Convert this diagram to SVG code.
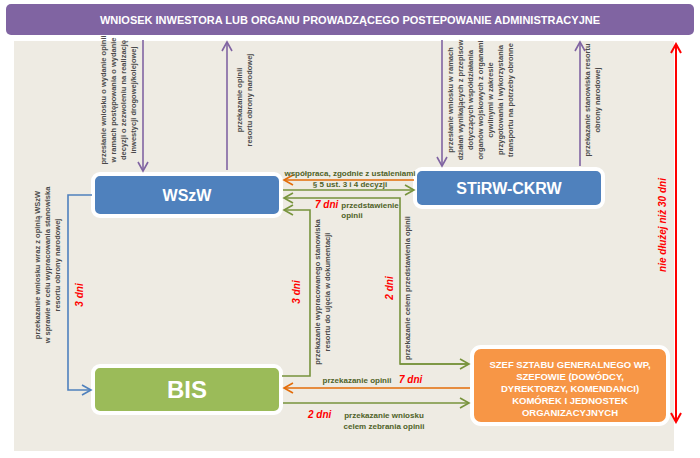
<svg xmlns="http://www.w3.org/2000/svg" width="700" height="458" viewBox="0 0 700 458">
<style>
text{font-family:"Liberation Sans","DejaVu Sans",sans-serif}
.t{font-size:7.5px;fill:#4a4a4a;font-weight:bold}
.g{font-size:8px;fill:#4f6228;font-weight:bold}
.r{font-size:10px;fill:#ff0000;font-weight:bold;font-style:italic}
.w{fill:#fff;font-weight:bold}
</style>
<defs>
<marker id="ap" markerWidth="12" markerHeight="12" refX="10" refY="6" orient="auto" markerUnits="userSpaceOnUse"><path d="M1,1 L10,6 L1,11" fill="none" stroke="#8064a2" stroke-width="1.6"/></marker>
<marker id="ag" markerWidth="12" markerHeight="12" refX="10" refY="6" orient="auto" markerUnits="userSpaceOnUse"><path d="M1,1 L10,6 L1,11" fill="none" stroke="#77933c" stroke-width="1.6"/></marker>
<marker id="ao" markerWidth="12" markerHeight="12" refX="10" refY="6" orient="auto" markerUnits="userSpaceOnUse"><path d="M1,1 L10,6 L1,11" fill="none" stroke="#e36c09" stroke-width="1.6"/></marker>
<marker id="ab" markerWidth="12" markerHeight="12" refX="10" refY="6" orient="auto" markerUnits="userSpaceOnUse"><path d="M1,1 L10,6 L1,11" fill="none" stroke="#4f81bd" stroke-width="1.6"/></marker>
<marker id="ar" markerWidth="12" markerHeight="12" refX="10" refY="6" orient="auto-start-reverse" markerUnits="userSpaceOnUse"><path d="M1,1 L10,6 L1,11" fill="none" stroke="#ff0000" stroke-width="2"/></marker>
</defs>
<rect width="700" height="458" fill="#fff"/>
<rect x="14" y="41" width="660" height="410" fill="#eeebe3"/>
<g id="banner"><rect x="6" y="4" width="688" height="31" rx="5" fill="#8064a2"/>
<text x="350" y="24" text-anchor="middle" class="w" font-size="11">WNIOSEK INWESTORA LUB ORGANU PROWADZĄCEGO POSTEPOWANIE ADMINISTRACYJNE</text></g>
<g id="wszw"><rect x="93" y="174" width="188" height="42" rx="7" fill="#4f81bd" stroke="#fff" stroke-width="4"/><text x="187" y="201" text-anchor="middle" class="w" font-size="16">WSzW</text></g>
<g id="stirw"><rect x="415" y="169" width="188" height="38" rx="7" fill="#4f81bd" stroke="#fff" stroke-width="4"/><text x="509" y="194" text-anchor="middle" class="w" font-size="16">STiRW-CKRW</text></g>
<g id="bis"><rect x="93" y="366" width="188" height="47" rx="7" fill="#9bbb59" stroke="#fff" stroke-width="4"/><text x="187" y="398" text-anchor="middle" class="w" font-size="24">BIS</text></g>
<g id="szef"><rect x="472" y="347" width="196" height="77" rx="9" fill="#f79646" stroke="#fff" stroke-width="4"/>
<text text-anchor="middle" class="w" font-size="9.5"><tspan x="570" y="368">SZEF SZTABU GENERALNEGO WP,</tspan><tspan x="570" y="380">SZEFOWIE (DOWÓDCY,</tspan><tspan x="570" y="392">DYREKTORZY, KOMENDANCI)</tspan><tspan x="570" y="404">KOMÓREK I JEDNOSTEK</tspan><tspan x="570" y="416">ORGANIZACYJNYCH</tspan></text></g>
<g id="connectors" fill="none" stroke-width="1.6">
<line x1="143" y1="40" x2="143" y2="171" stroke="#8064a2" marker-end="url(#ap)"/>
<line x1="227" y1="170" x2="227" y2="42" stroke="#8064a2" marker-end="url(#ap)"/>
<line x1="442" y1="40" x2="442" y2="166" stroke="#8064a2" marker-end="url(#ap)"/>
<line x1="580" y1="166" x2="580" y2="42" stroke="#8064a2" marker-end="url(#ap)"/>
<line x1="414" y1="180" x2="284" y2="180" stroke="#e36c09" marker-end="url(#ao)"/>
<line x1="283" y1="190" x2="414" y2="190" stroke="#77933c" marker-end="url(#ag)"/>
<polyline points="468,364 400,364 400,198 284,198" stroke="#77933c" marker-end="url(#ag)"/>
<line x1="400" y1="364" x2="469" y2="364" stroke="#77933c" marker-end="url(#ag)"/>
<polyline points="282,376 310,376 310,210 284,210" stroke="#77933c" marker-end="url(#ag)"/>
<line x1="470" y1="388" x2="284" y2="388" stroke="#e36c09" marker-end="url(#ao)"/>
<line x1="283" y1="403" x2="469" y2="403" stroke="#77933c" marker-end="url(#ag)"/>
<polyline points="92,195 68,195 68,390 91,390" stroke="#4f81bd" marker-end="url(#ab)"/>
<line x1="676" y1="44" x2="676" y2="422" stroke="#ff0000" stroke-width="2" marker-start="url(#ar)" marker-end="url(#ar)"/>
</g>
<g id="labels">
<text class="t" text-anchor="middle" transform="translate(106,100) rotate(-90)"><tspan x="0" y="0">przesłanie wniosku o wydanie opinii</tspan><tspan x="0" y="10">w ramach postępowania o wydanie</tspan><tspan x="0" y="20">decyzji o zezwoleniu na realizację</tspan><tspan x="0" y="30">inwestycji drogowej/kolejowej</tspan></text>
<text class="t" text-anchor="middle" transform="translate(242,100) rotate(-90)"><tspan x="0" y="0">przekazanie opinii</tspan><tspan x="0" y="10">resortu obrony narodowej</tspan></text>
<text class="t" text-anchor="middle" transform="translate(453,100) rotate(-90)"><tspan x="0" y="0">przesłanie wniosku w ramach</tspan><tspan x="0" y="10">działań wynikających z przepisów</tspan><tspan x="0" y="20">dotyczących współdziałania</tspan><tspan x="0" y="30">organów wojskowych z organami</tspan><tspan x="0" y="40">cywilnymi w zakresie</tspan><tspan x="0" y="50">przygotowania i wykorzystania</tspan><tspan x="0" y="60">transportu na potrzeby obronne</tspan></text>
<text class="t" text-anchor="middle" transform="translate(590,100) rotate(-90)"><tspan x="0" y="0">przekazanie stanowiska resortu</tspan><tspan x="0" y="10">obrony narodowej</tspan></text>
<text class="g" x="350" y="176" text-anchor="middle">współpraca, zgodnie z ustaleniami</text>
<text class="g" x="350" y="187" text-anchor="middle">§ 5 ust. 3 i 4 decyzji</text>
<text x="315" y="208"><tspan class="r">7 dni</tspan><tspan class="g" dx="3">przedstawienie</tspan></text>
<text class="g" x="352" y="218" text-anchor="middle">opinii</text>
<text class="r" text-anchor="middle" transform="translate(300,292) rotate(-90)">3 dni</text>
<text class="t" text-anchor="middle" transform="translate(320,292) rotate(-90)"><tspan x="0" y="0">przekazanie wypracowanego stanowiska</tspan><tspan x="0" y="10">resortu do ujęcia w dokumentacji</tspan></text>
<text class="r" text-anchor="middle" transform="translate(393,288) rotate(-90)">2 dni</text>
<text class="t" text-anchor="middle" transform="translate(410,288) rotate(-90)">przekazanie celem przedstawienia opinii</text>
<text class="t" text-anchor="middle" transform="translate(40,265) rotate(-90)"><tspan x="0" y="0">przekazanie wniosku wraz z opinią WSzW</tspan><tspan x="0" y="10">w sprawie w celu wypracowania stanowiska</tspan><tspan x="0" y="20">resortu obrony narodowej</tspan></text>
<text class="r" text-anchor="middle" transform="translate(83,295) rotate(-90)">3 dni</text>
<text class="g" x="357" y="383" text-anchor="middle">przekazanie opinii</text>
<text class="r" x="399" y="383">7 dni</text>
<text class="r" x="308" y="418">2 dni</text>
<text class="g" text-anchor="middle"><tspan x="384" y="418">przekazanie wniosku</tspan><tspan x="384" y="429">celem zebrania opinii</tspan></text>
<text class="r" text-anchor="middle" transform="translate(666,225) rotate(-90)">nie dłużej niż 30 dni</text>
</g>
</svg>
